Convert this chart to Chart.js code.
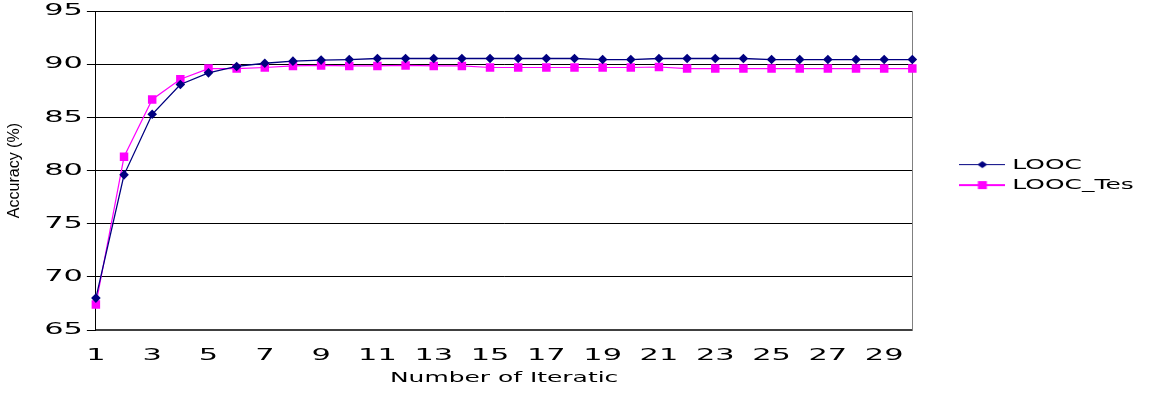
<!DOCTYPE html>
<html lang="en">
  <head>
    <meta charset="UTF-8" />
    <title>Accuracy vs Iterations</title>
    <script src="https://cdn.jsdelivr.net/npm/chart.js"></script>
    <style>
      html,
      body {
        margin: 0;
        padding: 0;
        background: #fff;
      }
      #wrap {
        width: 1150px;
        height: 393px;
        position: relative;
      }
    </style>
  </head>
  <body>
    <div id="wrap"><canvas id="accChart"></canvas></div>

    <script>
      const iterations = Array.from({ length: 30 }, (_, i) => String(i + 1));
      const loocValues = [
        68.0, 79.6, 85.3, 88.1, 89.2, 89.8, 90.1, 90.3, 90.4, 90.45,
        90.55, 90.55, 90.55, 90.55, 90.55, 90.55, 90.55, 90.55, 90.45, 90.45,
        90.55, 90.55, 90.55, 90.55, 90.45, 90.45, 90.45, 90.45, 90.45, 90.45,
      ];
      const loocTestValues = [
        67.4, 81.3, 86.7, 88.6, 89.6, 89.6, 89.7, 89.85, 89.9, 89.85,
        89.85, 89.9, 89.85, 89.85, 89.7, 89.7, 89.7, 89.7, 89.7, 89.7,
        89.75, 89.6, 89.6, 89.6, 89.6, 89.6, 89.6, 89.6, 89.6, 89.6,
      ];
      const yTicks = [65, 70, 75, 80, 85, 90, 95];

      const navy = "#000080";
      const magenta = "#ff00ff";

      // the original text is squashed wide; widen glyphs by font size
      const stretchBySize = { 16: 1.9, 14: 1.78 };
      const plainText = ["Accuracy (%)"];
      const canvas = document.getElementById("accChart");
      const ctx = canvas.getContext("2d");
      const fill = ctx.fillText.bind(ctx);
      const measure = ctx.measureText.bind(ctx);
      function stretchFor(text) {
        if (plainText.includes(String(text))) return 1;
        const m = ctx.font.match(/(\d+(?:\.\d+)?)px/);
        return (m && stretchBySize[Math.round(parseFloat(m[1]))]) || 1;
      }
      ctx.fillText = function (text, x, y, maxWidth) {
        const s = stretchFor(text);
        if (s === 1) return fill(text, x, y, maxWidth);
        ctx.save();
        ctx.translate(x, y);
        ctx.scale(s, 1);
        fill(text, 0, 0);
        ctx.restore();
      };
      ctx.measureText = function (text) {
        const m = measure(text);
        const s = stretchFor(text);
        if (s === 1) return m;
        return {
          width: m.width * s,
          actualBoundingBoxAscent: m.actualBoundingBoxAscent,
          actualBoundingBoxDescent: m.actualBoundingBoxDescent,
          actualBoundingBoxLeft: m.actualBoundingBoxLeft * s,
          actualBoundingBoxRight: m.actualBoundingBoxRight * s,
        };
      };

      // legend symbols: short line with the marker in the middle
      function legendSymbol(color, shape, lineWidth, lineY) {
        const c = document.createElement("canvas");
        c.width = 46;
        c.height = 10;
        const g = c.getContext("2d");
        g.strokeStyle = color;
        g.lineWidth = lineWidth;
        g.beginPath();
        g.moveTo(0, lineY);
        g.lineTo(46, lineY);
        g.stroke();
        g.fillStyle = color;
        g.beginPath();
        if (shape === "diamond") {
          g.moveTo(18, 4.5);
          g.lineTo(23, 1);
          g.lineTo(28, 4.5);
          g.lineTo(23, 8);
        } else {
          g.rect(18.5, 1, 9, 8);
        }
        g.fill();
        return c;
      }
      const legendSymbols = [
        legendSymbol(navy, "diamond", 1, 4.5),
        legendSymbol(magenta, "square", 2, 5),
      ];

      Chart.defaults.font.family = "DejaVu Sans";
      Chart.defaults.color = "#000";

      new Chart(ctx, {
        type: "line",
        data: {
          labels: iterations,
          datasets: [
            {
              label: "LOOC",
              data: loocValues,
              borderColor: navy,
              backgroundColor: navy,
              borderWidth: 1.3,
              pointStyle: "rectRot",
              pointRadius: 4.8,
              pointBorderWidth: 0,
              tension: 0,
            },
            {
              label: "LOOC_Tes",
              data: loocTestValues,
              borderColor: magenta,
              backgroundColor: magenta,
              borderWidth: 1.2,
              pointStyle: "rect",
              pointRadius: 6,
              pointBorderWidth: 0,
              tension: 0,
            },
          ],
        },
        options: {
          responsive: true,
          maintainAspectRatio: false,
          animation: false,
          layout: { padding: { left: 5, right: 7, top: 0, bottom: 6 } },
          plugins: {
            tooltip: { enabled: false },
            legend: {
              position: "right",
              fullSize: false,
              // empty title only nudges the items down a little
              title: {
                display: true,
                text: "",
                padding: 0,
                font: { size: 9, lineHeight: 1 },
              },
              labels: {
                usePointStyle: true,
                pointStyleWidth: 46,
                padding: 6,
                font: { size: 14 },
                color: "#000",
                generateLabels(chart) {
                  const items =
                    Chart.defaults.plugins.legend.labels.generateLabels(chart);
                  items.forEach((it, i) => {
                    it.pointStyle = legendSymbols[i];
                  });
                  return items;
                },
              },
            },
          },
          scales: {
            x: {
              type: "category",
              offset: false,
              grid: { display: false, drawTicks: false },
              border: { color: "#404040", width: 2 },
              ticks: {
                autoSkip: false,
                maxRotation: 0,
                padding: 16,
                font: { size: 16 },
                callback(value, index) {
                  return index % 2 === 0 ? iterations[index] : "";
                },
              },
              title: {
                display: true,
                text: "Number of Iteratic",
                font: { size: 14 },
                padding: { top: -11, bottom: 0 },
              },
            },
            y: {
              min: yTicks[0],
              max: yTicks[yTicks.length - 1],
              afterBuildTicks(scale) {
                scale.ticks = yTicks.map((v) => ({ value: v }));
              },
              grid: {
                color: "#000",
                lineWidth: 1,
                tickLength: 9,
                tickColor: "#000",
              },
              border: { color: "#000", width: 1 },
              ticks: { padding: 4, font: { size: 16, lineHeight: 0.9 } },
              title: {
                display: true,
                text: "Accuracy (%)",
                font: { family: "Liberation Sans", size: 16 },
                padding: { top: 0, bottom: 16 },
              },
            },
            y1: {
              position: "right",
              min: yTicks[0],
              max: yTicks[yTicks.length - 1],
              grid: { display: false, drawTicks: false },
              border: { color: "#808080", width: 1 },
              ticks: { display: false },
              afterFit(scale) {
                scale.width = 41;
              },
            },
          },
        },
      });
    </script>
  </body>
</html>
